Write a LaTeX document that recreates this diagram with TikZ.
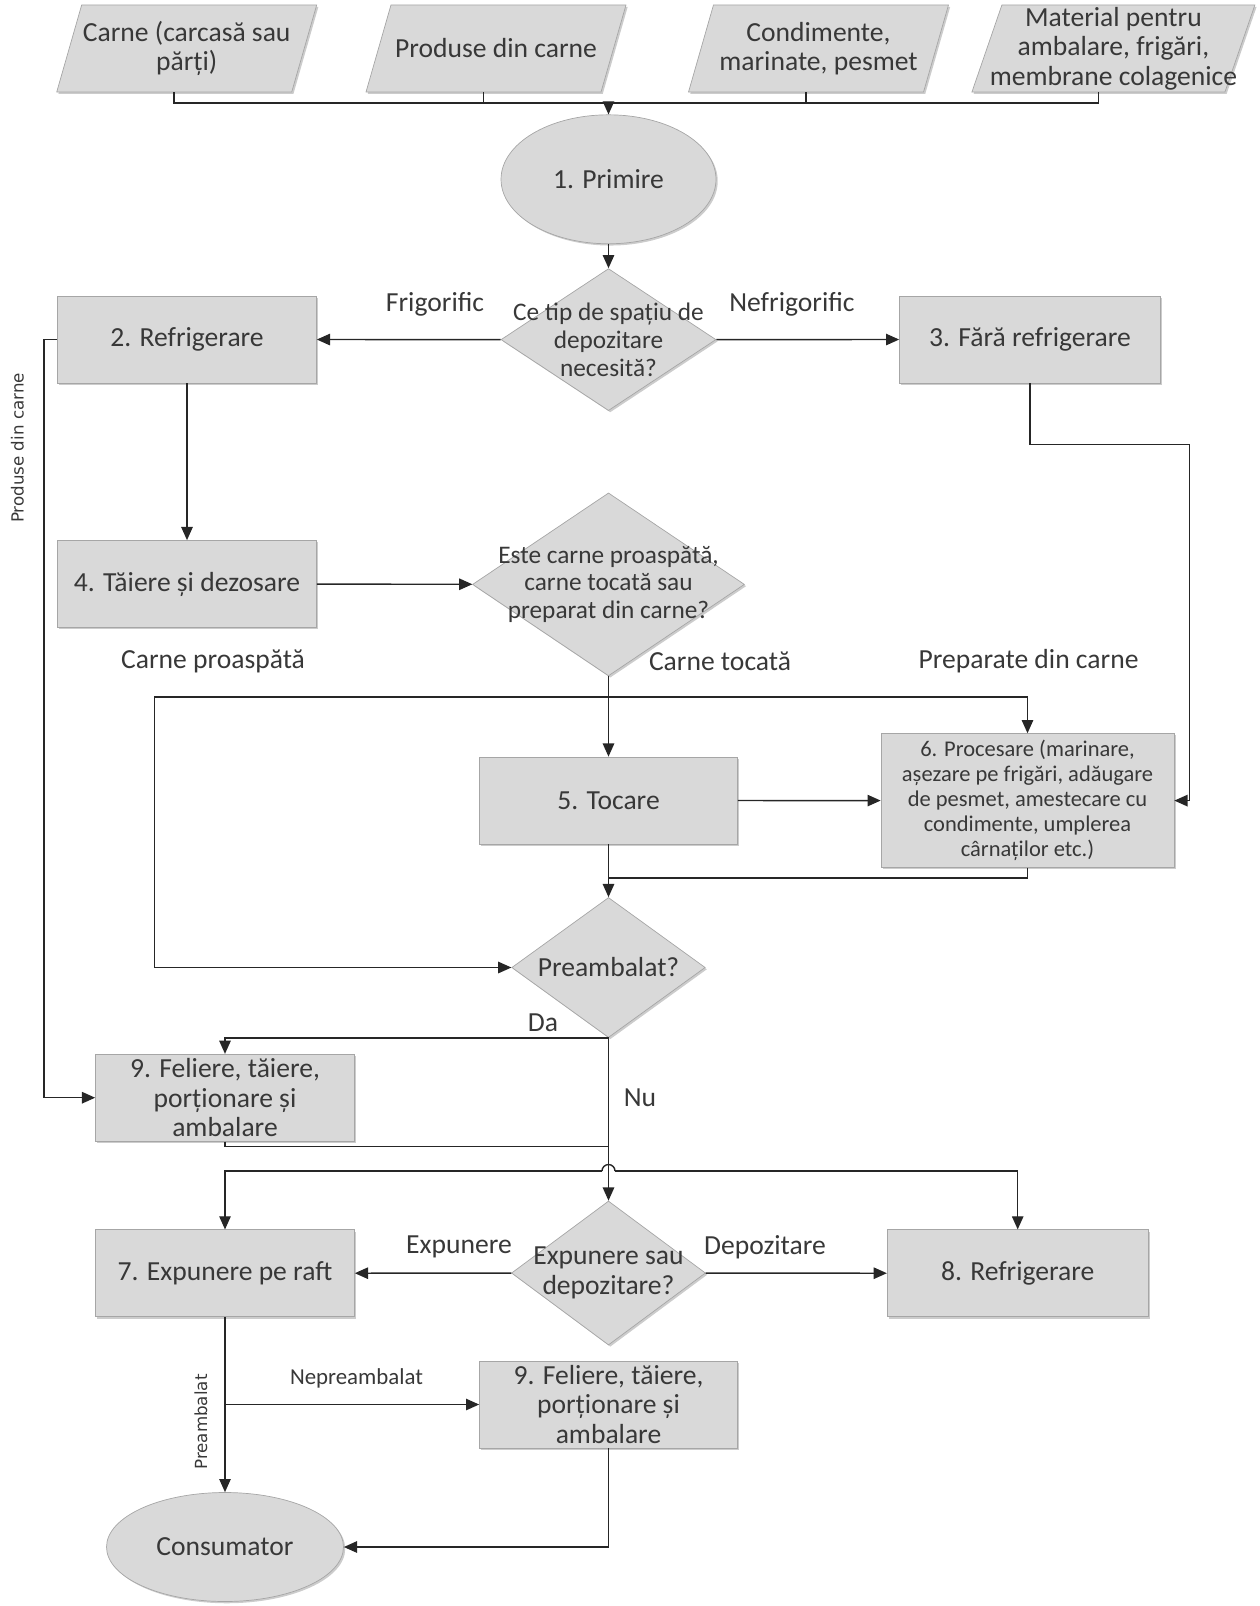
\documentclass[tikz,border=0pt]{standalone}
\usepackage{fontspec}
\setmainfont{Carlito}
\newfontfamily\sidefont{DejaVu Sans}
\usetikzlibrary{arrows.meta,positioning,shapes.geometric,shadows}
\definecolor{boxfill}{HTML}{D9D9D9}
\definecolor{boxline}{HTML}{A6A6A6}
\definecolor{txtgray}{HTML}{383838}
\definecolor{wire}{HTML}{262626}

\begin{document}
\begin{tikzpicture}[x=0.02cm,y=-0.02cm,
      basefs/.style={font=\fontsize{15.7}{16.8}\selectfont},
      decfs/.style={font=\fontsize{14.4}{15.8}\selectfont},
      shade/.style={drop shadow={shadow xshift=1pt,shadow yshift=-1pt,fill=black!40}},
      proc/.style={basefs,draw=boxline,fill=boxfill,shade,text=txtgray,align=center,
        minimum width=5.18cm,minimum height=1.74cm,inner sep=2pt},
      para/.style={trapezium,trapezium left angle=74,trapezium right angle=106,trapezium stretches body,
        text height=0.8cm,text depth=0.8cm,
        draw=boxline,fill=boxfill,shade,minimum width=5.2cm,minimum height=1.74cm,inner sep=2pt},
      decide/.style={diamond,draw=boxline,fill=boxfill,shade,inner sep=2pt},
      term/.style={ellipse,draw=boxline,fill=boxfill,shade,inner sep=2pt},
      txt/.style={basefs,text=txtgray,align=center,inner sep=0pt},
      dtxt/.style={txt,decfs},
      side/.style={text=txtgray,font=\sidefont\fontsize{9.5}{11}\selectfont,rotate=90,inner sep=0pt},
      line/.style={draw=wire,line width=0.8pt},
      arr/.style={line,-{Triangle[length=7.5pt,width=6.5pt]}}]
    \useasboundingbox (0,0) rectangle (1259,1606);

    % inputs
    \node[para,label={[txt]center:Carne (carcasă sau\\părți)}] (p1) at (186.7,48.5) {};
    \node[para,label={[txt]center:Produse din carne}] (p2) at (496,48.5) {};
    \node[para,label={[txt]center:Condimente,\\marinate, pesmet}] (p3) at (818.5,48.5) {};
    \node[para,minimum width=5.66cm,trapezium left angle=71,trapezium right angle=109,
      label={[txt]center:Material pentru\\ambalare, frigări,\\membrane colagenice}] (p4) at (1113.4,48.5) {};
    \coordinate (bus) at (608.5,103);

    \node[term,minimum width=4.3cm,minimum height=2.58cm,label={[txt]center:1. Primire}] (prim) at (608.5,179.3) {\strut};
    \node[decide,minimum width=4.3cm,minimum height=2.84cm,
      label={[dtxt]center:Ce tip de spațiu de\\depozitare\\necesită?}] (d1) at (608.5,339.6) {\strut};
    \node[proc] (b2) at (187,339.5) {2. Refrigerare};
    \node[proc,minimum width=5.22cm] (b3) at (1030,339.5) {3. Fără refrigerare};
    \node[proc] (b4) at (187,584) {4. Tăiere și dezosare};
    \node[decide,minimum width=5.44cm,minimum height=3.66cm,
      label={[dtxt]center:Este carne proaspătă,\\carne tocată sau\\preparat din carne?}] (d2) at (608.5,584.4) {\strut};
    \node[proc,minimum width=5.16cm] (b5) at (608.5,800.5) {5. Tocare};
    \node[proc,minimum width=5.86cm,minimum height=2.68cm,font=\fontsize{12.8}{14.2}\selectfont] (b6) at (1027.5,800.6)
      {6. Procesare (marinare,\\așezare pe frigări, adăugare\\de pesmet, amestecare cu\\condimente, umplerea\\cârnaților etc.)};
    \node[decide,minimum width=3.87cm,minimum height=2.8cm,label={[txt]center:Preambalat?}] (d3) at (608.5,967.5) {\strut};
    \node[proc] (b9a) at (225,1097.7) {9. Feliere, tăiere,\\porționare și\\ambalare};
    \node[decide,minimum width=3.88cm,minimum height=2.88cm,
      label={[txt]center:Expunere sau\\depozitare?}] (d4) at (608.5,1273) {\strut};
    \node[proc] (b7) at (225,1273.3) {7. Expunere pe raft};
    \node[proc,minimum width=5.22cm] (b8) at (1017.7,1273.3) {8. Refrigerare};
    \node[proc,minimum width=5.16cm] (b9b) at (608.5,1404.5) {9. Feliere, tăiere,\\porționare și\\ambalare};
    \node[term,minimum width=4.74cm,minimum height=2.18cm,label={[txt]center:Consumator}] (cons) at (225,1547) {\strut};

    % branch labels
    \node[txt] (lfrig) at (435,304) {Frigorific};
    \node[txt] (lnefrig) at (792,304) {Nefrigorific};
    \node[txt] (lprosp) at (213,661) {Carne proaspătă};
    \node[txt] (ltoc) at (720,661) {Carne tocată};
    \node[txt] (lprep) at (1028.5,661) {Preparate din carne};
    \node[txt] (lda) at (543,1022.5) {Da};
    \node[txt] (lnu) at (640,1098) {Nu};
    \node[txt] (lexp) at (459,1247) {Expunere};
    \node[txt] (ldep) at (765,1247) {Depozitare};
    \node[txt,font=\fontsize{13}{15}\selectfont] (lnepre) at (356.5,1378) {Nepreambalat};
    \node[side] (lprod) at (17.4,448) {Produse din carne};
    \node[side] (lpre) at (200.8,1422) {Preambalat};

    % helper points
    \coordinate (split) at (608.5,697);
    \coordinate (cpl) at (154.7,697);
    \coordinate (rt) at (1189.3,444.6);
    \coordinate (merge) at (608.5,878);
    \coordinate (lft) at (44,339.5);
    \coordinate (join) at (608.5,1146.3);
    \coordinate (hopl) at (602,1171);
    \coordinate (hopr) at (615,1171);
    \coordinate (br) at (225,1404.5);

    % connectors
    \draw[line] (p1.bottom side) |- (bus) -| (p4.bottom side);
    \foreach \p in {p2,p3}{
      \draw[line] (\p.bottom side) -- (\p.bottom side |- bus);}
    \draw[arr] (bus) -- (prim);
    \draw[arr] (prim) -- (d1);
    \draw[arr] (d1) -- (b2);
    \draw[arr] (d1) -- (b3);
    \draw[arr] (b2) -- (b4);
    \draw[arr] (b4) -- (d2);
    \draw[arr] (d2) -- (b5);
    \draw[arr] (split) -| (b6);
    \draw[arr] (split) -- (cpl) |- (d3);
    \draw[arr] (b5) -- (b6);
    \draw[arr] (b3) |- (rt) |- (b6);
    \draw[line] (b5) -- (merge);
    \draw[line] (b6) |- (merge);
    \draw[arr] (merge) -- (d3);
    \draw[arr] (d3.south) -| (b9a);
    \draw[arr] (b2) -- (lft) |- (b9a);
    \draw[line] (b9a) |- (join);
    \draw[arr] (d3) -- (d4);
    \draw[arr] (hopl) -| (b7);
    \draw[arr] (hopr) -| (b8);
    \draw[line] (hopl) arc[start angle=180,end angle=0,radius=0.13cm];
    \draw[arr] (d4) -- (b7);
    \draw[arr] (d4) -- (b8);
    \draw[arr] (b7) -- (cons);
    \draw[arr] (br) -- (b9b);
    \draw[arr] (b9b) |- (cons);
  \end{tikzpicture}
\end{document}
